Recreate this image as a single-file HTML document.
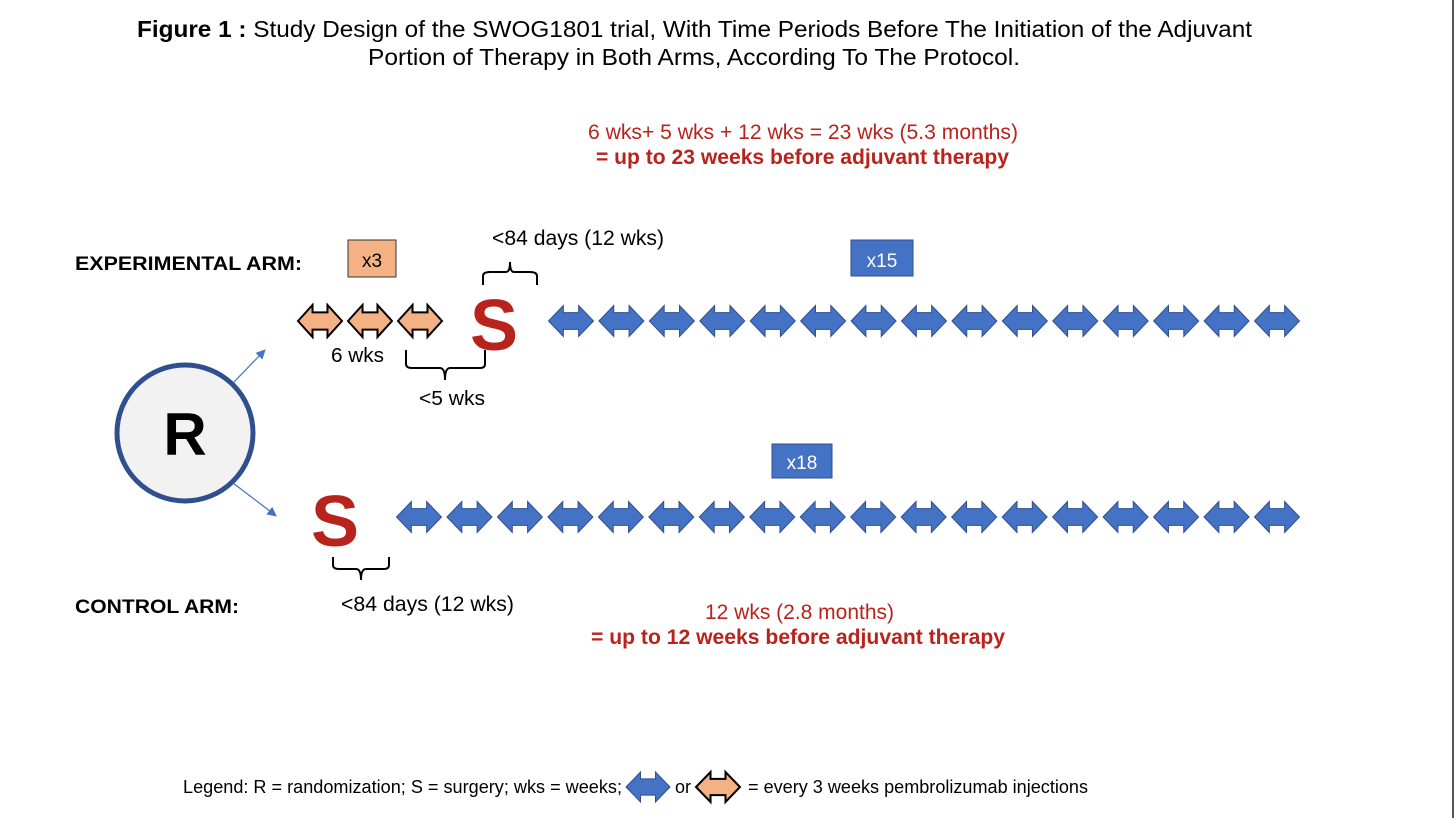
<!DOCTYPE html>
<html><head><meta charset="utf-8"><style>
body{margin:0;background:#fff;}
svg{display:block;font-family:"Liberation Sans",Arial,sans-serif;}
</style></head><body>
<svg id="fig" width="1456" height="818" viewBox="0 0 1456 818">
<line x1="1453" y1="0" x2="1453" y2="818" stroke="#555" stroke-width="2"/>
<text x="137" y="37" font-size="23" textLength="1115" lengthAdjust="spacingAndGlyphs"><tspan font-weight="bold">Figure 1 :</tspan> Study Design of the SWOG1801 trial, With Time Periods Before The Initiation of the Adjuvant</text>
<text x="368" y="65" font-size="23" textLength="652" lengthAdjust="spacingAndGlyphs">Portion of Therapy in Both Arms, According To The Protocol.</text>
<text x="588" y="139" font-size="21" fill="#b8231c" textLength="430" lengthAdjust="spacingAndGlyphs">6 wks+ 5 wks + 12 wks = 23 wks (5.3 months)</text>
<text x="596" y="164" font-size="21" fill="#b8231c" font-weight="bold" textLength="413" lengthAdjust="spacingAndGlyphs">= up to 23 weeks before adjuvant therapy</text>
<text x="75" y="270" font-size="19" font-weight="bold" textLength="227" lengthAdjust="spacingAndGlyphs">EXPERIMENTAL ARM:</text>
<rect x="348" y="240" width="48" height="37" fill="#f4b183" stroke="#333" stroke-width="1"/>
<text x="372" y="267" font-size="19" text-anchor="middle">x3</text>
<text x="492" y="245" font-size="21" textLength="172" lengthAdjust="spacingAndGlyphs">&lt;84 days (12 wks)</text>
<path d="M483,285 V276 Q483,272 490,272 H506 Q510,272 510,262 Q510,272 514,272 H530 Q537,272 537,276 V285" fill="none" stroke="#000" stroke-width="2"/>
<rect x="851" y="240" width="62" height="36" fill="#4472c4" stroke="#2f4f8f" stroke-width="1"/>
<text x="882" y="267" font-size="19" fill="#fff" text-anchor="middle">x15</text>
<text x="494" y="350" font-size="72" font-weight="bold" fill="#b8231c" text-anchor="middle">S</text>
<text x="331" y="362" font-size="20" textLength="53" lengthAdjust="spacingAndGlyphs">6 wks</text>
<path d="M406,350 V364 Q406,368 412,368 H440 Q445,368 445,380 Q445,368 450,368 H480 Q485,368 485,364 V350" fill="none" stroke="#000" stroke-width="2"/>
<text x="419" y="405" font-size="20" textLength="66" lengthAdjust="spacingAndGlyphs">&lt;5 wks</text>
<circle cx="185" cy="433" r="68" fill="#f2f2f2" stroke="#2f4f8f" stroke-width="5"/>
<text x="185" y="455" font-size="60" font-weight="bold" text-anchor="middle">R</text>
<defs><marker id="ah" markerWidth="8" markerHeight="8" refX="6" refY="4" orient="auto"><path d="M0,0 L8,4 L0,8 z" fill="#4472c4"/></marker></defs>
<line x1="233" y1="383" x2="264" y2="351" stroke="#4472c4" stroke-width="1.2" marker-end="url(#ah)"/>
<line x1="233" y1="483" x2="275" y2="515" stroke="#4472c4" stroke-width="1.2" marker-end="url(#ah)"/>
<rect x="772" y="444" width="60" height="34" fill="#4472c4" stroke="#2f4f8f" stroke-width="1"/>
<text x="802" y="469" font-size="19" fill="#fff" text-anchor="middle">x18</text>
<text x="335" y="546" font-size="72" font-weight="bold" fill="#b8231c" text-anchor="middle">S</text>
<path d="M333,557 V565 Q333,569 339,569 H356 Q361,569 361,580 Q361,569 366,569 H384 Q389,569 389,565 V557" fill="none" stroke="#000" stroke-width="2"/>
<text x="75" y="613" font-size="19" font-weight="bold" textLength="164" lengthAdjust="spacingAndGlyphs">CONTROL ARM:</text>
<text x="341" y="611" font-size="21" textLength="173" lengthAdjust="spacingAndGlyphs">&lt;84 days (12 wks)</text>
<text x="705" y="619" font-size="21" fill="#b8231c" textLength="189" lengthAdjust="spacingAndGlyphs">12 wks (2.8 months)</text>
<text x="591" y="644" font-size="21" fill="#b8231c" font-weight="bold" textLength="414" lengthAdjust="spacingAndGlyphs">= up to 12 weeks before adjuvant therapy</text>
<text x="183" y="793" font-size="18" textLength="439" lengthAdjust="spacingAndGlyphs">Legend: R = randomization; S = surgery; wks = weeks;</text>
<text x="675" y="793" font-size="18">or</text>
<text x="748" y="793" font-size="18" textLength="340" lengthAdjust="spacingAndGlyphs">= every 3 weeks pembrolizumab injections</text>
<g id="marks"></g>
</svg>
<script>
const neoadjCount = [3];
const adjExpCount = [15];
const adjCtrlCount = [18];
const NS = "http://www.w3.org/2000/svg";
const g = document.getElementById('marks');
function arrow(cx, cy, w, h, fill, stroke, name) {
  const hw = w/2, hh = h/2, head = w*0.33, sh = h*0.27;
  const p = document.createElementNS(NS, 'polygon');
  p.setAttribute('points', [
    [cx-hw,cy],[cx-hw+head,cy-hh],[cx-hw+head,cy-sh],[cx+hw-head,cy-sh],[cx+hw-head,cy-hh],
    [cx+hw,cy],[cx+hw-head,cy+hh],[cx+hw-head,cy+sh],[cx-hw+head,cy+sh],[cx-hw+head,cy+hh]
  ].map(a=>a.join(',')).join(' '));
  p.setAttribute('fill', fill);
  p.setAttribute('stroke', stroke);
  p.setAttribute('stroke-width', stroke === '#000' ? 2 : 1);
  
  
  g.appendChild(p);
}
for (let i = 0; i < neoadjCount[0]; i++) arrow(320 + i*50, 321, 44, 32, '#f4b183', '#000', 'neoadjuvant-injection-' + (i+1));
for (let i = 0; i < adjExpCount[0]; i++) arrow(571 + i*(1277-571)/(adjExpCount[0]-1 || 1), 321, 45, 31, '#4472c4', '#2f4f8f', 'exp-adjuvant-injection-' + (i+1));
for (let i = 0; i < adjCtrlCount[0]; i++) arrow(419 + i*(1277-419)/(adjCtrlCount[0]-1 || 1), 517, 45, 31, '#4472c4', '#2f4f8f', 'ctrl-adjuvant-injection-' + (i+1));
arrow(648, 787, 44, 30, '#4472c4', '#2f4f8f', 'legend-blue-arrow');
arrow(718, 787, 44, 30, '#f4b183', '#000', 'legend-orange-arrow');
</script>
</body></html>
